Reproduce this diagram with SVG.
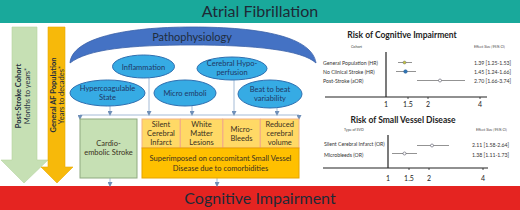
<svg xmlns="http://www.w3.org/2000/svg" width="520" height="210" viewBox="0 0 520 210">
<defs>
<marker id="ah" markerWidth="5" markerHeight="5" refX="4" refY="2.5" orient="auto" markerUnits="userSpaceOnUse">
<path d="M0,0 L5,2.5 L0,5 Z" fill="#6f8fb8"/>
</marker>
</defs>
<style>
text{font-family:Lato,"Open Sans","Liberation Sans",sans-serif;fill:#1f2d3d}
.banner{font-size:16px;fill:#1e2a36}
.ell{fill:#36abe4;stroke:#2e6fb0;stroke-width:1}
.et{font-size:7.5px;text-anchor:middle;fill:#1f3864}
.bx{fill:#ffd966;stroke:#f4b183;stroke-width:1}
.bt{font-size:7.5px;text-anchor:middle;fill:#3a3020}
.con{fill:none;stroke:#8ea9cc;stroke-width:0.8}
.ax{stroke:#222;stroke-width:1.2}
.tick{stroke:#222;stroke-width:0.8}
.wh{stroke:#777;stroke-width:0.8}
.ct{font-size:5.2px;fill:#333}
.cs{font-size:3.6px;fill:#444}
.tk{font-size:7px;fill:#222;text-anchor:middle}
.title{font-size:8.5px;font-weight:bold;text-anchor:middle;fill:#222}
</style>
<rect width="520" height="210" fill="#fff"/>
<g id="banner-af">
<rect x="0" y="0" width="520" height="23" fill="#19a99b"/>
<text class="banner" x="260" y="17" text-anchor="middle">Atrial Fibrillation</text>
</g>
<g id="banner-ci">
<rect x="0" y="186" width="520" height="24" fill="#e52421"/>
<text class="banner" x="260" y="204" text-anchor="middle">Cognitive Impairment</text>
</g>
<g id="arrow-post-stroke">
<path d="M12,27 L37,27 L37,160 L48,160 L24,183 L1,160 L12,160 Z" fill="#c6e0b4" stroke="#b5d3a0" stroke-width="0.6"/>
<text transform="translate(21,96) rotate(-90)" text-anchor="middle" font-size="7.5" font-weight="bold">Post-Stroke Cohort</text>
<text transform="translate(29.5,96) rotate(-90)" text-anchor="middle" font-size="7.5">Months to years*</text>
</g>
<g id="arrow-general-af">
<path d="M48,27 L65,27 L65,167 L73,167 L57,183 L41,167 L48,167 Z" fill="#f7b90a" stroke="#e8a800" stroke-width="0.6"/>
<text transform="translate(55.5,95) rotate(-90)" text-anchor="middle" font-size="7.5" font-weight="bold">General AF Population</text>
<text transform="translate(63.5,95) rotate(-90)" text-anchor="middle" font-size="7.5">Years to decades*</text>
</g>
<g id="pathophysiology">
<path d="M70,63 C72,38 125,27 192,27 C262,27 312,37 316,63 C302,50 255,45 192,45 C130,45 88,49 70,63 Z" fill="#4472c4" stroke="#3b62a8" stroke-width="0.8"/>
<text x="192" y="41" text-anchor="middle" font-size="11" fill="#1f3864">Pathophysiology</text>
</g>
<g id="connectors">
<line class="con" x1="149" y1="78" x2="149" y2="115" marker-end="url(#ah)"/>
<line class="con" x1="234" y1="80" x2="234" y2="115" marker-end="url(#ah)"/>
<line class="con" x1="110" y1="106" x2="110" y2="115" marker-end="url(#ah)"/>
<line class="con" x1="192" y1="106" x2="192" y2="115" marker-end="url(#ah)"/>
<line class="con" x1="277" y1="108" x2="277" y2="115" marker-end="url(#ah)"/>
<line class="con" x1="80" y1="115" x2="299" y2="115"/>
<line class="con" x1="80" y1="115" x2="80" y2="119" marker-end="url(#ah)"/>
<line class="con" x1="299" y1="115" x2="299" y2="119" marker-end="url(#ah)"/>
<line class="con" x1="110" y1="178" x2="110" y2="186" marker-end="url(#ah)"/>
<line class="con" x1="217" y1="178" x2="217" y2="186" marker-end="url(#ah)"/>
</g>
<g id="inflammation">
<ellipse class="ell" cx="143.5" cy="66.5" rx="31" ry="11.5"/>
<text class="et" x="143.5" y="69.5">Inflammation</text>
</g>
<g id="hypoperfusion">
<ellipse class="ell" cx="232" cy="68.5" rx="35" ry="11.5"/>
<text class="et" x="232" y="66" font-size="6.5">Cerebral Hypo-</text>
<text class="et" x="232" y="74.5" font-size="6.5">perfusion</text>
</g>
<g id="hypercoagulable">
<ellipse class="ell" cx="107.5" cy="93" rx="37.5" ry="13"/>
<text class="et" x="107.5" y="91">Hypercoagulable</text>
<text class="et" x="107.5" y="100">State</text>
</g>
<g id="micro-emboli">
<ellipse class="ell" cx="185" cy="93" rx="31" ry="13"/>
<text class="et" x="185" y="96">Micro emboli</text>
</g>
<g id="beat-variability">
<ellipse class="ell" cx="270" cy="94" rx="32" ry="14"/>
<text class="et" x="270" y="92">Beat to beat</text>
<text class="et" x="270" y="101">variability</text>
</g>
<g id="cardioembolic">
<rect x="80" y="119" width="57" height="59" fill="#c6e0b4" stroke="#8faa80" stroke-width="1"/>
<text class="bt" x="108.5" y="146">Cardio-</text>
<text class="bt" x="108.5" y="155">embolic Stroke</text>
</g>
<g id="silent-infarct">
<rect class="bx" x="142" y="119" width="38" height="29"/>
<text class="bt" x="161" y="127">Silent</text>
<text class="bt" x="161" y="136">Cerebral</text>
<text class="bt" x="161" y="145">Infarct</text>
</g>
<g id="wml">
<rect class="bx" x="180.5" y="119" width="42" height="29"/>
<text class="bt" x="201.5" y="127">White</text>
<text class="bt" x="201.5" y="136">Matter</text>
<text class="bt" x="201.5" y="145">Lesions</text>
</g>
<g id="microbleeds">
<rect class="bx" x="223" y="119" width="37" height="29"/>
<text class="bt" x="241.5" y="132">Micro-</text>
<text class="bt" x="241.5" y="141">Bleeds</text>
</g>
<g id="reduced-volume">
<rect class="bx" x="260.5" y="119" width="38.5" height="29"/>
<text class="bt" x="279.75" y="127">Reduced</text>
<text class="bt" x="279.75" y="136">cerebral</text>
<text class="bt" x="279.75" y="145">volume</text>
</g>
<g id="superimposed">
<rect x="142" y="148" width="157" height="30" fill="#ffc000" stroke="#e6a400" stroke-width="1"/>
<text class="bt" x="220.5" y="161">Superimposed on concomitant Small Vessel</text>
<text class="bt" x="220.5" y="171">Disease due to comorbidities</text>
</g>
<g id="chart-cognitive">
<text class="title" x="402" y="38">Risk of Cognitive Impairment</text>
<text class="cs" x="351" y="48">Cohort</text>
<text class="cs" x="474" y="48">Effect Size [95% CI]</text>
<line class="ax" x1="386" y1="52" x2="386" y2="97"/>
<line class="ax" x1="325" y1="97" x2="487" y2="97"/>
<line class="tick" x1="408" y1="97" x2="408" y2="99"/>
<line class="tick" x1="428" y1="97" x2="428" y2="99"/>
<line class="tick" x1="480" y1="97" x2="480" y2="99"/>
<text class="tk" x="386" y="107">1</text>
<text class="tk" x="408" y="107">1.5</text>
<text class="tk" x="428" y="107">2</text>
<text class="tk" x="480" y="107">4</text>
<text class="ct" x="323" y="64.5">General Population (HR)</text>
<text class="ct" x="323" y="73.5">No Clinical Stroke (HR)</text>
<text class="ct" x="323" y="82.5">Post-Stroke (aOR)</text>
<text class="ct" x="474" y="64.5">1.39 [1.25-1.53]</text>
<text class="ct" x="474" y="73.5">1.45 [1.24-1.66]</text>
<text class="ct" x="474" y="82.5">2.70 [1.66-3.74]</text>
<line class="wh" x1="398" y1="62.5" x2="412" y2="62.5"/>
<circle cx="404.5" cy="62.5" r="1.5" fill="#c8c83a" stroke="#667" stroke-width="0.5"/>
<line class="wh" x1="396" y1="71.5" x2="416" y2="71.5"/>
<circle cx="405.5" cy="71.5" r="1.8" fill="#2e75b6" stroke="#2a5a90" stroke-width="0.5"/>
<line class="wh" x1="417" y1="80.5" x2="465" y2="80.5"/>
<circle cx="440" cy="80.5" r="1.5" fill="#fff" stroke="#556" stroke-width="0.6"/>
</g>
<g id="chart-svd">
<text class="title" x="403" y="123">Risk of Small Vessel Disease</text>
<text class="cs" x="344" y="131">Type of SVD</text>
<text class="cs" x="476" y="131">Effect Size [95% CI]</text>
<line class="ax" x1="388" y1="135" x2="388" y2="168"/>
<line class="ax" x1="323" y1="168" x2="488" y2="168"/>
<line class="tick" x1="409" y1="168" x2="409" y2="170"/>
<line class="tick" x1="429" y1="168" x2="429" y2="170"/>
<line class="tick" x1="483" y1="168" x2="483" y2="170"/>
<text class="tk" x="388" y="181">1</text>
<text class="tk" x="409" y="181">1.5</text>
<text class="tk" x="429" y="181">2</text>
<text class="tk" x="483" y="181">4</text>
<text class="ct" x="324" y="145.5">Silent Cerebral Infarct (OR)</text>
<text class="ct" x="324" y="156.5">Microbleeds (OR)</text>
<text class="ct" x="472" y="147">2.11 [1.58-2.64]</text>
<text class="ct" x="472" y="156.5">1.38 [1.11-1.73]</text>
<line class="wh" x1="417" y1="145.5" x2="449" y2="145.5"/>
<circle cx="432" cy="145.5" r="1.5" fill="#fff" stroke="#556" stroke-width="0.6"/>
<line class="wh" x1="392" y1="153.5" x2="417" y2="153.5"/>
<circle cx="404.5" cy="153.5" r="1.5" fill="#fff" stroke="#556" stroke-width="0.6"/>
</g>
</svg>
